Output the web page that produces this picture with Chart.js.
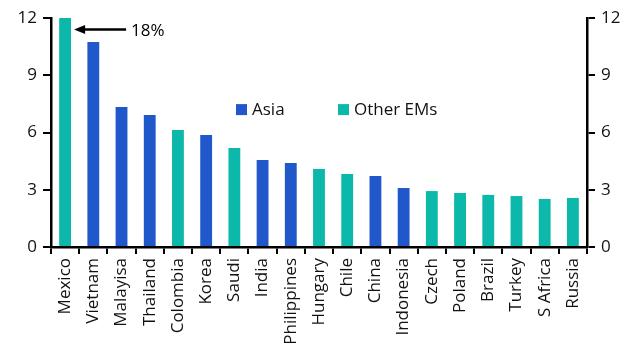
<!DOCTYPE html>
<html>
<head>
<meta charset="utf-8">
<script src="https://cdn.jsdelivr.net/npm/chart.js@4.4.1/dist/chart.umd.min.js"></script>
<style>
  html, body { margin: 0; padding: 0; background: #ffffff; }
  #wrap { width: 631px; height: 358px; position: relative; }
</style>
</head>
<body>
<div id="wrap"><canvas id="c" width="631" height="358"></canvas></div>
<script>
const categories = ["Mexico","Vietnam","Malayisa","Thailand","Colombia","Korea","Saudi","India","Philippines","Hungary","Chile","China","Indonesia","Czech","Poland","Brazil","Turkey","S Africa","Russia"];
const values = [18, 10.74, 7.34, 6.92, 6.13, 5.87, 5.19, 4.56, 4.40, 4.09, 3.83, 3.72, 3.09, 2.93, 2.83, 2.73, 2.67, 2.52, 2.57];
const regions = ["Other","Asia","Asia","Asia","Other","Asia","Other","Asia","Asia","Other","Other","Asia","Asia","Other","Other","Other","Other","Other","Other"];
const seriesNames = ["Asia", "Other EMs"];
const yTicks = [0, 3, 6, 9, 12];

const BLUE = "#2058cc";
const TEAL = "#0cb8aa";
const FONT = "'Open Sans', 'Noto Sans', sans-serif";
const FSIZE = 17;

const asiaData = values.map((v, i) => regions[i] === "Asia" ? v : null);
const otherData = values.map((v, i) => regions[i] === "Other" ? v : null);

const overlay = {
  id: "overlay",
  afterDatasetsDraw(chart) {
    const ctx = chart.ctx;
    const x = chart.scales.x, y = chart.scales.y;
    ctx.save();
    // arrow annotation for clipped Mexico bar
    const tipX = x.getPixelForValue(0) + 9;
    const ay = y.getPixelForValue(11.4);
    const tailX = tipX + 52;
    ctx.strokeStyle = "#000"; ctx.fillStyle = "#000"; ctx.lineWidth = 2.5;
    ctx.beginPath(); ctx.moveTo(tipX + 9, ay); ctx.lineTo(tailX, ay); ctx.stroke();
    ctx.beginPath(); ctx.moveTo(tipX, ay); ctx.lineTo(tipX + 11, ay - 4.5); ctx.lineTo(tipX + 11, ay + 4.5); ctx.closePath(); ctx.fill();
    ctx.font = FSIZE + "px " + FONT; ctx.textBaseline = "middle"; ctx.textAlign = "left";
    ctx.fillText(values[0] + "%", tailX + 5, ay + 2);
    // legend
    const ly = y.getPixelForValue(7.2);
    const items = [[seriesNames[0], BLUE, 236], [seriesNames[1], TEAL, 338]];
    items.forEach(([name, col, lx]) => {
      ctx.fillStyle = col; ctx.fillRect(lx, ly - 5.5, 11, 11);
      ctx.fillStyle = "#111"; ctx.fillText(name, lx + 16, ly + 1);
    });
    ctx.restore();
  }
};

const axisCommon = {
  min: 0, max: 12,
  afterBuildTicks(s) { s.ticks = yTicks.map(v => ({ value: v })); },
  border: { display: true, color: "#000", width: 2.5 },
  grid: { drawOnChartArea: false, color: "#000", lineWidth: 2, tickLength: 8 },
  ticks: { color: "#111", font: { family: FONT, size: FSIZE }, padding: 6 }
};

new Chart(document.getElementById("c"), {
  type: "bar",
  data: {
    labels: categories,
    datasets: [
      { label: seriesNames[0], data: asiaData, backgroundColor: BLUE, clip: 0, yAxisID: "y" },
      { label: seriesNames[1], data: otherData, backgroundColor: TEAL, clip: 0, yAxisID: "y" }
    ]
  },
  options: {
    responsive: false,
    animation: false,
    devicePixelRatio: 1,
    layout: { padding: { top: 18, left: 0, right: 0, bottom: 0 } },
    datasets: { bar: { categoryPercentage: 1, barPercentage: 0.42 } },
    plugins: { legend: { display: false }, tooltip: { enabled: false } },
    scales: {
      x: {
        stacked: true,
        offset: true,
        border: { display: true, color: "#000", width: 2.5 },
        grid: { offset: true, drawOnChartArea: false, color: "#000", lineWidth: 2, tickLength: 7 },
        ticks: { color: "#111", font: { family: FONT, size: FSIZE }, minRotation: 90, maxRotation: 90, autoSkip: false, padding: 4 },
        afterFit(s) { s.height = 111; }
      },
      y: Object.assign({}, axisCommon, { position: "left", stacked: false, afterFit(s) { s.width = 51; } }),
      y2: Object.assign({}, axisCommon, { position: "right", afterFit(s) { s.width = 44; } })
    }
  },
  plugins: [overlay]
});
</script>
</body>
</html>
